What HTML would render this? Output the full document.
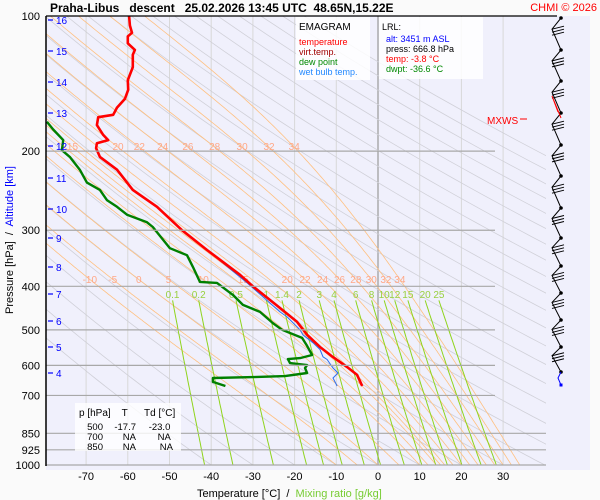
<!DOCTYPE html>
<html><head><meta charset="utf-8"><style>
body{margin:0;background:#fafafa;}
svg{display:block;font-family:"Liberation Sans",sans-serif;}
</style></head><body>
<svg id="c" width="600" height="500" viewBox="0 0 600 500" xmlns="http://www.w3.org/2000/svg">
<defs><clipPath id="pc"><rect x="46" y="16" width="500" height="449"/></clipPath></defs>
<rect x="46" y="16" width="544" height="454" fill="#f0f0fc"/>
<g id="grid" clip-path="url(#pc)"></g>
<g id="series" clip-path="url(#pc)"></g>
<g id="axes"></g>
<g id="wind"></g>
<text x="50" y="12" font-size="12" font-weight="bold" fill="#000" xml:space="preserve">Praha-Libus   descent   25.02.2026 13:45 UTC  48.65N,15.22E</text>
<text x="597" y="11" font-size="11" fill="#f00" text-anchor="end">CHMI © 2026</text>
<g>
<rect x="296" y="17" width="74" height="63" fill="#fff" opacity="0.85"/>
<text x="299" y="30" font-size="10" fill="#000">EMAGRAM</text>
<text x="299" y="45" font-size="9" fill="#f00">temperature</text>
<text x="299" y="55" font-size="9" fill="#a00000">virt.temp.</text>
<text x="299" y="65" font-size="9" fill="#080">dew point</text>
<text x="299" y="75" font-size="9" fill="#28f">wet bulb temp.</text>
</g>
<g>
<rect x="379" y="17" width="104" height="62" fill="#fff" opacity="0.85"/>
<text x="382" y="30" font-size="9" fill="#000">LRL:</text>
<text x="386" y="42" font-size="9" fill="#00f">alt: 3451 m ASL</text>
<text x="386" y="52" font-size="9" fill="#000">press: 666.8 hPa</text>
<text x="386" y="62" font-size="9" fill="#f00">temp: -3.8 °C</text>
<text x="386" y="72" font-size="9" fill="#080">dwpt: -36.6 °C</text>
</g>
<text x="487" y="124" font-size="10" fill="#f00">MXWS</text>
<line x1="520" y1="119" x2="527" y2="119" stroke="#f00"/>
<g>
<rect x="75" y="403" width="106" height="48" fill="#fff" opacity="0.8"/>
<text x="79" y="416" font-size="10" xml:space="preserve">p [hPa]    T      Td [°C]</text>
<text font-size="9.5" text-anchor="end">
<tspan x="103" y="430">500</tspan><tspan x="136" y="430">-17.7</tspan><tspan x="173" y="430">-23.0</tspan>
<tspan x="103" y="440">700</tspan><tspan x="136" y="440">NA</tspan><tspan x="173" y="440">NA</tspan>
<tspan x="103" y="450">850</tspan><tspan x="136" y="450">NA</tspan><tspan x="173" y="450">NA</tspan>
</text></g>
<text x="197" y="497" font-size="11" xml:space="preserve">Temperature [°C]  /  <tspan fill="#7c3">Mixing ratio [g/kg]</tspan></text>
<text transform="translate(13,240) rotate(-90)" font-size="11" text-anchor="middle" xml:space="preserve">Pressure [hPa]  /  <tspan fill="#00f">Altitude [km]</tspan></text>
</svg>
<script>
// ---- data ----
const tempP=[667,630,605,575,546,513,480,447,400,377,332,300,266,244,220,206,197,192,189,184,175,168,166,160,153,146,139,130,122,119,115,111,109,105,100];
const tempT=[-3.8,-5.0,-7.4,-10.8,-13.9,-17.0,-19.4,-23.5,-30.0,-33.1,-41.0,-47.0,-53.0,-58.8,-62.6,-66.7,-67.6,-67.4,-64.7,-65.9,-67.4,-67.1,-63.5,-62.6,-60.7,-59.9,-60.0,-58.8,-58.8,-58.3,-60.0,-60.0,-59.0,-59.5,-59.7];
const dewP=[667,653,640,637,634,624,608,599,593,581,578,569,543,521,500,483,456,440,418,393,391,362,341,329,295,288,277,266,257,244,235,220,206,199,189,179,172];
const dewT=[-36.6,-39.6,-39.6,-30.0,-22.3,-17.0,-17.5,-17.0,-21.1,-21.6,-18.7,-15.8,-17.0,-18.2,-23.0,-25.2,-28.3,-32.4,-34.8,-38.6,-42.7,-44.4,-45.8,-49.9,-54.0,-55.4,-60.2,-62.6,-65.0,-66.7,-69.8,-71.5,-73.9,-75.8,-75.5,-77.9,-79.4];
const wbP=[667,640,624,608,582,574,553,534,513,500,468,456,393,332,325];
const wbT=[-9.8,-10.8,-9.6,-10.8,-12.2,-13.2,-13.9,-15.6,-18.0,-18.7,-21.8,-23.5,-31.4,-41.0,-42.2];
const tempTicks=[-70,-60,-50,-40,-30,-20,-10,0,10,20,30];
const presTicks=[100,200,300,400,500,600,700,850,925,1000];
const altKm=[16,15,14,13,12,11,10,9,8,7,6,5,4];
const altY=[20,51,82,113,146,178,209,238,267,294,321,347,373];
const mixRatios=[0.1,0.2,0.5,1,1.4,2,3,4,6,8,10,12,15,20,25];
const moistLow=[-10,-5,0,5,10,15,20,22,24,26,28,30,32,34];
const moistHigh=[15,20,22,24,26,28,30,32,34];
const dryThetas=[-40,-30,-20,-10,0,10,20,30,40,50,60,70,80,90,100,110,120,130,140,150,160,170,180,190,200,210,220];
// ---- scales ----
const NS='http://www.w3.org/2000/svg';
function xT(t){return 378+4.17*t;}
function yP(p){return 16+449*Math.log10(p/100);}
function mk(tag,attrs,parent){const e=document.createElementNS(NS,tag);for(const k in attrs)e.setAttribute(k,attrs[k]);parent.appendChild(e);return e;}
const grid=document.getElementById('grid'),series=document.getElementById('series'),axes=document.getElementById('axes'),wind=document.getElementById('wind');
function pathFrom(pts){return pts.map((q,i)=>(i?'L':'M')+q[0].toFixed(1)+' '+q[1].toFixed(1)).join(' ');}
tempTicks.forEach(t=>{
 const l=mk('line',{x1:xT(t),x2:xT(t),y1:16,y2:465,stroke:t===0?'#999':'#d8d8d8','stroke-width':t===0?1.2:1},grid);
 
 
});
dryThetas.forEach(th=>{
 const pts=[];for(let p=1000;p>=100;p-=10){pts.push([xT((th+273.15)*Math.pow(p/1000,0.2857)-273.15),yP(p)]);}
 const e=mk('path',{d:pathFrom(pts),fill:'none',stroke:'#d0d0d8','stroke-width':0.8},grid);
 
 
});
function es(T){return 6.112*Math.exp(17.67*T/(T+243.5));}
function moist(tw){
 let T=tw+273.15;const pts=[];const Rd=287,cp=1004,Lv=2.5e6,eps=0.622;
 for(let p=1000;p>=100;p-=2){
  pts.push([p,T-273.15]);
  const e=es(T-273.15),rs=eps*e/(p-e);
  const dTdp=(Rd*T+Lv*rs)/(cp+Lv*Lv*rs*eps/(Rd*T*T))/p;
  T-=dTdp*2;
 }
 return pts;
}
const allMoist=[-10,-5,0,5,10,12,14,15,16,18,20,22,24,26,28,30,32,34];
const moistCache={};
allMoist.forEach(tw=>{
 const m=moist(tw);moistCache[tw]=m;
 const e=mk('path',{d:pathFrom(m.map(q=>[xT(q[1]),yP(q[0])])),fill:'none',stroke:'#ffc080','stroke-width':0.8},grid);
 
 
});
function moistAt(tw,p){const m=moistCache[tw]||moist(tw);let best=m[0];m.forEach(q=>{if(Math.abs(q[0]-p)<Math.abs(best[0]-p))best=q;});return best[1];}
moistLow.forEach(tw=>{
 const t=mk('text',{x:xT(moistAt(tw,385)),y:yP(385)+4,'font-size':10,fill:'#ffa888','text-anchor':'middle'},grid);t.textContent=tw;
 
 
});
moistHigh.forEach(tw=>{
 const t=mk('text',{x:xT(moistAt(tw,195)),y:yP(195)+4,'font-size':10,fill:'#ffa888','text-anchor':'middle'},grid);t.textContent=tw;
 
 
});
function tdFromW(w,p){const e=w*p/(622+w);const L=Math.log(e/6.112);return 243.5*L/(17.67-L);}
mixRatios.forEach(w=>{
 const pts=[];for(let p=430;p<=1000;p+=10)pts.push([xT(tdFromW(w,p)),yP(p)]);
 const e=mk('path',{d:pathFrom(pts),fill:'none',stroke:'#8fd41c','stroke-width':1},grid);
 
 
 const t=mk('text',{x:xT(tdFromW(w,430)),y:298,'font-size':10,fill:'#99d040','text-anchor':'middle'},grid);t.textContent=w;
 
 
});
presTicks.forEach(p=>{
 if(p===100)return;
 const x2=p>=850?546:495;
 const l=mk('line',{x1:46,x2:x2,y1:yP(p),y2:yP(p),stroke:'#a8a8a8','stroke-width':1.2},axes);
 
 
});
function series_(P,T,color,w,name){
 const e=mk('path',{d:pathFrom(P.map((p,i)=>[xT(T[i]),yP(p)])),fill:'none',stroke:color,'stroke-width':w,'stroke-linejoin':'round'},series);
 
 
}
series_(wbP,wbT,'#2a6cf0',1,'wet-bulb-line');
series_(dewP,dewT,'#008000',2.4,'dew-point-line');
series_(tempP,tempT,'#ff0000',2.6,'temperature-line');
let e=mk('line',{x1:46,x2:46,y1:16,y2:466,stroke:'#000','stroke-width':1.5},axes);


e=mk('line',{x1:46,x2:557,y1:16,y2:16,stroke:'#000','stroke-width':1.2},axes);


presTicks.forEach(p=>{
 const t=mk('text',{x:40,y:yP(p)+4,'font-size':11,'text-anchor':'end',fill:'#000'},axes);t.textContent=p;
 
 
});
tempTicks.forEach(v=>{
 const t=mk('text',{x:xT(v),y:480,'font-size':11,'text-anchor':'middle',fill:'#000'},axes);t.textContent=v;
 
 
});
altKm.forEach((k,i)=>{
 const l=mk('line',{x1:48,x2:53,y1:altY[i],y2:altY[i],stroke:'#00f','stroke-width':1.2},axes);
 
 
 const t=mk('text',{x:56,y:altY[i]+4,'font-size':10,fill:'#00f'},axes);t.textContent=k;
 
 
});
const barbY=[18,50,81,113,145,176,208,238,266,293,320,347,372];
for(let i=0;i<barbY.length;i++){
 const y=barbY[i];
 const d=mk('circle',{cx:561,cy:y,r:1.8,fill:'#000'},wind);
 
 
 if(i<barbY.length-1){
  const y2=barbY[i+1];const vx=552,vy=y+(y2-y)*0.35;
  const s=mk('polyline',{points:`561,${y} ${vx},${vy} 561,${y2}`,fill:'none',stroke:'#000','stroke-width':1},wind);
  
  
  for(let k=0;k<3;k++){mk('line',{x1:552,y1:vy+k*3,x2:564,y2:vy-3+k*3,stroke:'#000','stroke-width':1},wind);}
 }
}
mk('polyline',{points:'561,372 558,378 561,385',fill:'none',stroke:'#00f'},wind);
mk('rect',{x:559.5,y:383.5,width:3,height:3,fill:'#00f'},wind);
mk('polyline',{points:'558,112 552,96 561,118',fill:'none',stroke:'#f00','stroke-width':1},wind);
</script>
</body></html>
